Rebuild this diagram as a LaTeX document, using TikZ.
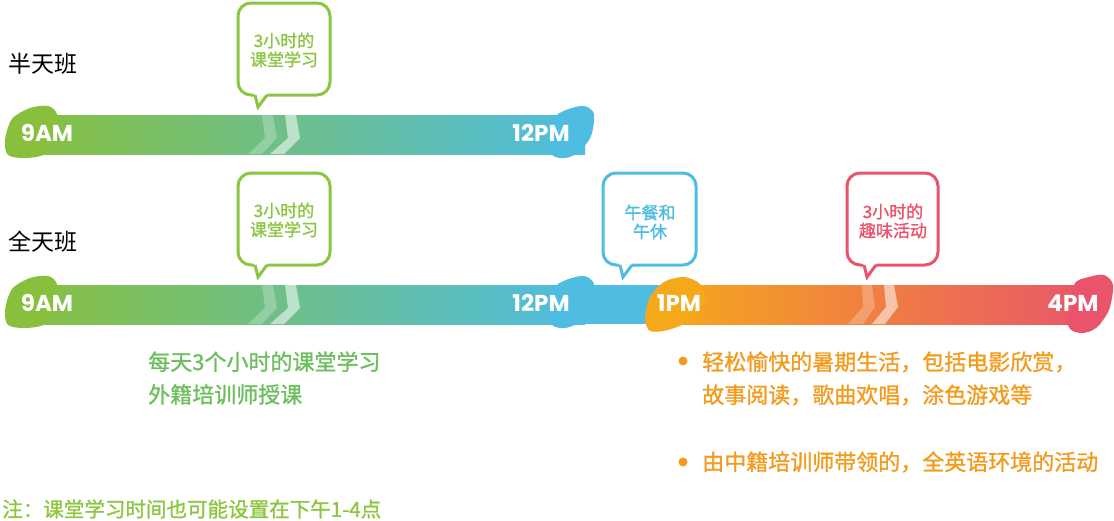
\documentclass[tikz,border=0pt]{standalone}
\usepackage{fontspec}
\setmainfont{Noto Sans CJK SC}
\newfontfamily\cjkheavy{Noto Sans CJK SC}[FakeBold=1.2]
\newfontfamily\timefont{Poppins}
\usepackage{xcolor}

\definecolor{leafgreen}{HTML}{8CC63F}
\definecolor{textgreen}{HTML}{6EBE5E}
\definecolor{skyblue}{HTML}{4FBDE1}
\definecolor{rosered}{HTML}{E9546B}
\definecolor{sunorange}{HTML}{F6A81B}
\definecolor{textorange}{HTML}{F29B1D}

\begin{document}
\begin{tikzpicture}[x=0.75pt,y=0.75pt,yscale=-1,xscale=1,
  callout/.style={line width=2.25pt,fill=white,rounded corners=9.75pt},
  callouttail/.style={line width=2.25pt,line join=miter},
  calloutlabel/.style={inner sep=0.75pt,align=center,font=\cjkheavy\fontsize{12.75}{14.25}\selectfont},
  timelabel/.style={inner sep=0.75pt,text=white,font=\timefont\bfseries\fontsize{17.25}{17.25}\selectfont},
  chevronA/.style={fill=white,fill opacity=0.25},
  chevronB/.style={fill=white,fill opacity=0.55}]
\useasboundingbox (0,0) rectangle (1114,521);

%Shape: Bar [id:half] 
\shade[left color=leafgreen!97!black,middle color={rgb,255:red,132;green,196;blue,124},right color=skyblue] (20,115) rectangle (585,154) ;
%Shape: Blob 
\fill[leafgreen!97!black] plot[smooth cycle] coordinates {(5,140) (12,119) (30,108) (48,106) (57,114) (58,135) (45,154) (25,158) (8,155)} ;
%Shape: Blob 
\fill[skyblue] plot[smooth cycle] coordinates {(553,120) (566,110) (584,106) (594,114) (591,136) (579,152) (565,158) (551,153)} ;
%Shape: Chevron 
\fill[chevronA] (262,115) -- (273,115) -- (277,138) -- (262,154) -- (248,154) -- (265,138) -- cycle ;
\fill[chevronB] (285,115) -- (296,115) -- (300,138) -- (284,154) -- (270,154) -- (288,138) -- cycle ;

%Shape: Bar [id:full] 
\shade[left color=leafgreen!97!black,middle color={rgb,255:red,132;green,196;blue,124},right color=skyblue] (20,285) rectangle (585,324) ;
\fill[skyblue] (580,285) rectangle (665,324) ;
%Shape: Blob 
\fill[leafgreen!97!black] plot[smooth cycle] coordinates {(5,310) (12,289) (30,278) (48,276) (57,284) (58,305) (45,324) (25,328) (8,325)} ;
%Shape: Blob 
\fill[skyblue] plot[smooth cycle] coordinates {(553,290) (566,280) (584,276) (594,284) (591,306) (579,322) (565,328) (551,323)} ;
%Shape: Bar 
\shade[left color=sunorange,middle color={rgb,255:red,240;green,136;blue,78},right color=rosered] (660,285) rectangle (1100,324) ;
%Shape: Blob 
\fill[sunorange] plot[smooth cycle] coordinates {(645,318) (650,297) (664,282) (684,277) (700,284) (705,300) (691,320) (668,330) (650,331)} ;
%Shape: Blob 
\fill[rosered] plot[smooth cycle] coordinates {(1074,285) (1089,277) (1104,275) (1113,285) (1109,310) (1096,328) (1081,333) (1068,325)} ;
%Shape: Chevron 
\fill[chevronA] (262,285) -- (273,285) -- (277,308) -- (262,324) -- (248,324) -- (265,308) -- cycle ;
\fill[chevronB] (285,285) -- (296,285) -- (300,308) -- (284,324) -- (270,324) -- (288,308) -- cycle ;
\fill[chevronA] (862,285) -- (872,285) -- (875,307) -- (863,324) -- (848,324) -- (863,307) -- cycle ;
\fill[chevronB] (884,285) -- (894,285) -- (898,307) -- (885,324) -- (872,324) -- (886,307) -- cycle ;

%Shape: Callout 
\draw[callout,draw=leafgreen] (238,3) rectangle (330,95) ;
\fill[white] (254,93) -- (258,107) -- (268,93) -- cycle ;
\draw[callouttail,draw=leafgreen] (255,95) -- (258,107) -- (267,95) ;
%Shape: Callout 
\draw[callout,draw=leafgreen] (238,173) rectangle (330,265) ;
\fill[white] (254,263) -- (258,277) -- (268,263) -- cycle ;
\draw[callouttail,draw=leafgreen] (255,265) -- (258,277) -- (267,265) ;
%Shape: Callout 
\draw[callout,draw=skyblue] (603,173) rectangle (696,265) ;
\fill[white] (619,263) -- (623,277) -- (633,263) -- cycle ;
\draw[callouttail,draw=skyblue] (620,265) -- (623,277) -- (632,265) ;
%Shape: Callout 
\draw[callout,draw=rosered] (847,173) rectangle (938,265) ;
\fill[white] (863,263) -- (867,277) -- (877,263) -- cycle ;
\draw[callouttail,draw=rosered] (864,265) -- (867,277) -- (876,265) ;

%Shape: Bullet 
\fill[textorange] (683,361) circle (4.5) ;
\fill[textorange] (683,462) circle (4.5) ;

% Text Node
\draw (43,64) node [inner sep=0.75pt,font=\fontsize{17.25}{17.25}\selectfont] (halfday) {半天班};
% Text Node
\draw (43,242) node [inner sep=0.75pt,font=\fontsize{17.25}{17.25}\selectfont] (fullday) {全天班};
% Text Node
\draw (284,50) node [calloutlabel,text=leafgreen] (studyhalf) {3小时的\\课堂学习};
% Text Node
\draw (284,220) node [calloutlabel,text=leafgreen] (studyfull) {3小时的\\课堂学习};
% Text Node
\draw (650,222) node [calloutlabel,text=skyblue] (lunch) {午餐和\\午休};
% Text Node
\draw (893,221) node [calloutlabel,text=rosered] (fun) {3小时的\\趣味活动};
% Text Node
\draw (47,133) node [timelabel] (nineA) {9AM};
\draw (541,133) node [timelabel] (noonA) {12PM};
\draw (47,303) node [timelabel] (nineB) {9AM};
\draw (541,303) node [timelabel] (noonB) {12PM};
\draw (679,303) node [timelabel] (onepm) {1PM};
\draw (1073,303) node [timelabel] (fourpm) {4PM};
% Text Node
\draw (147,378) node [anchor=west,inner sep=0.75pt,align=left,text=textgreen,font=\cjkheavy\fontsize{16.5}{24.5}\selectfont] (morning) {每天3个小时的课堂学习\\外籍培训师授课};
% Text Node
\draw (701,378.5) node [anchor=west,inner sep=0.75pt,align=left,text=textorange,font=\cjkheavy\fontsize{16.5}{24.75}\selectfont] (summer) {轻松愉快的暑期生活，包括电影欣赏，\\故事阅读，歌曲欢唱，涂色游戏等};
% Text Node
\draw (701,462) node [anchor=west,inner sep=0.75pt,text=textorange,font=\cjkheavy\fontsize{16.5}{16.5}\selectfont] (english) {由中籍培训师带领的，全英语环境的活动};
% Text Node
\draw (1,509) node [anchor=west,inner sep=0.75pt,text=leafgreen,font=\cjkheavy\fontsize{15.4}{15.4}\selectfont] (note) {注：课堂学习时间也可能设置在下午1-4点};

\end{tikzpicture}
\end{document}
